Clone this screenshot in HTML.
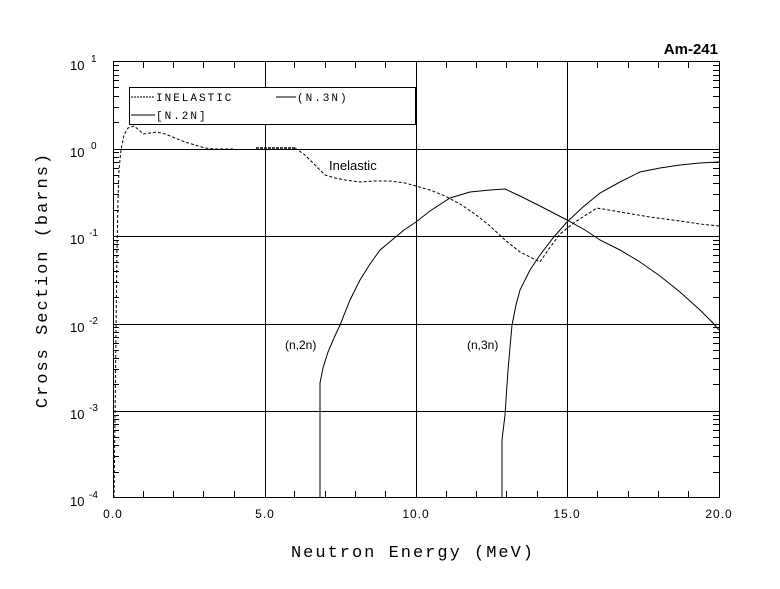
<!DOCTYPE html>
<html><head><meta charset="utf-8"><style>
html,body{margin:0;padding:0;background:#fff}
svg{display:block}
text{font-family:"Liberation Sans",sans-serif;fill:#000}
.m{font-family:"Liberation Mono",monospace;font-size:12px}
</style></head><body>
<svg width="780" height="589" viewBox="0 0 780 589" xmlns="http://www.w3.org/2000/svg">
<g stroke="#000" stroke-width="1" fill="none" shape-rendering="crispEdges">
<rect x="113.5" y="61.5" width="606" height="436"/>
<line x1="265.5" y1="61" x2="265.5" y2="498"/>
<line x1="416.5" y1="61" x2="416.5" y2="498"/>
<line x1="567.5" y1="61" x2="567.5" y2="498"/>
<line x1="113" y1="149.5" x2="719" y2="149.5"/>
<line x1="113" y1="236.5" x2="719" y2="236.5"/>
<line x1="113" y1="324.5" x2="719" y2="324.5"/>
<line x1="113" y1="411.5" x2="719" y2="411.5"/>
<path d="M143.5 61v7M173.5 61v7M203.5 61v7M234.5 61v7M294.5 61v7M325.5 61v7M355.5 61v7M385.5 61v7M446.5 61v7M476.5 61v7M506.5 61v7M537.5 61v7M597.5 61v7M628.5 61v7M658.5 61v7M688.5 61v7
M143.5 498v-7M173.5 498v-7M203.5 498v-7M234.5 498v-7M294.5 498v-7M325.5 498v-7M355.5 498v-7M385.5 498v-7M446.5 498v-7M476.5 498v-7M506.5 498v-7M537.5 498v-7M597.5 498v-7M628.5 498v-7M658.5 498v-7M688.5 498v-7"/>
<path id="yt" d="M113 472.5h6M113 456.5h6M113 445.5h6M113 437.5h6M113 430.5h6M113 424.5h6M113 419.5h6M113 415.5h6
M113 384.5h6M113 369.5h6M113 358.5h6M113 350.5h6M113 343.5h6M113 337.5h6M113 332.5h6M113 327.5h6
M113 297.5h6M113 282.5h6M113 271.5h6M113 262.5h6M113 255.5h6M113 249.5h6M113 244.5h6M113 240.5h6
M113 210.5h6M113 194.5h6M113 183.5h6M113 175.5h6M113 168.5h6M113 162.5h6M113 157.5h6M113 152.5h6
M113 122.5h6M113 107.5h6M113 96.5h6M113 87.5h6M113 80.5h6M113 75.5h6M113 70.5h6M113 65.5h6"/>
<use href="#yt" transform="translate(600,0)"/>
</g>
<g stroke="#000" fill="#fff" shape-rendering="crispEdges">
<rect x="129.5" y="87.5" width="286" height="37"/>
</g>
<g stroke="#000" fill="none">
<line x1="131" y1="97" x2="155" y2="97" stroke-dasharray="2,1"/>
<line x1="276" y1="97" x2="296" y2="97"/>
<line x1="131" y1="115" x2="155" y2="115"/>
</g>
<text class="m" x="156" y="101" style="font-size:11px;letter-spacing:2px">INELASTIC</text>
<text class="m" x="297" y="101" style="font-size:11px;letter-spacing:2px">(N.3N)</text>
<text class="m" x="156" y="119" style="font-size:11px;letter-spacing:2px">[N.2N]</text>
<g fill="none" stroke="#000" stroke-width="1">
<polyline stroke-dasharray="3,2" points="114,498 115,420 116,330 117,250 118,200 119,170 121,150 124,135 128,128 134,126 139,130 143,134 150,133 157,132 165,134 175,138 185,142 195,145 205,148 215,149 225,149 233,149"/>
<polyline stroke-dasharray="3,1" stroke-width="1.5" points="256,148 295,148"/>
<polyline stroke-dasharray="3,2" points="295,148 305,155 315,165 325,175 335,178 345,180 360,182 375,181 390,181 405,183 416,186 430,190 445,196 460,204 475,214 490,226 505,240 520,252 540,262 548,250 560,234 575,222 597,208 620,212 650,217 680,221 700,224 719,226"/>
<polyline points="320,498 320,383 323,368 328,352 334,338 340,325 350,300 360,280 370,264 380,250 392,240 404,230 416,222 430,211 450,198 470,192 490,190 505,189 520,196 540,206 567,220 585,230 600,240 620,250 640,262 660,276 680,292 700,310 712,322 719,330"/>
<polyline points="502,498 502,440 505,415 508,370 512,325 516,305 520,290 530,270 540,255 553,238 567,222 583,207 600,193 620,182 640,172 660,168 680,165 700,163 719,162"/>
</g>
<text x="329" y="170" style="font-size:13px">Inelastic</text>
<text x="285" y="349" style="font-size:12px">(n,2n)</text>
<text x="467" y="349" style="font-size:12px">(n,3n)</text>
<text x="718" y="54" text-anchor="end" style="font-size:15px;font-weight:bold">Am-241</text>
<g class="m" style="font-size:13px">
<text x="70" y="70">10</text><text x="91" y="62" style="font-size:10px">1</text>
<text x="70" y="157">10</text><text x="91" y="149" style="font-size:10px">0</text>
<text x="70" y="244">10</text><text x="89" y="236" style="font-size:10px">-1</text>
<text x="70" y="332">10</text><text x="89" y="324" style="font-size:10px">-2</text>
<text x="70" y="419">10</text><text x="89" y="411" style="font-size:10px">-3</text>
<text x="70" y="506">10</text><text x="89" y="498" style="font-size:10px">-4</text>
</g>
<g class="m" style="font-size:12px;letter-spacing:1px">
<text x="113" y="518" text-anchor="middle">0.0</text>
<text x="265" y="518" text-anchor="middle">5.0</text>
<text x="416" y="518" text-anchor="middle">10.0</text>
<text x="567" y="518" text-anchor="middle">15.0</text>
<text x="719" y="518" text-anchor="middle">20.0</text>
</g>
<text class="m" x="413" y="557" text-anchor="middle" style="font-size:17px;letter-spacing:2px">Neutron Energy (MeV)</text>
<text class="m" transform="translate(47,280) rotate(-90)" text-anchor="middle" style="font-size:17px;letter-spacing:2px">Cross Section (barns)</text>
</svg>
</body></html>
